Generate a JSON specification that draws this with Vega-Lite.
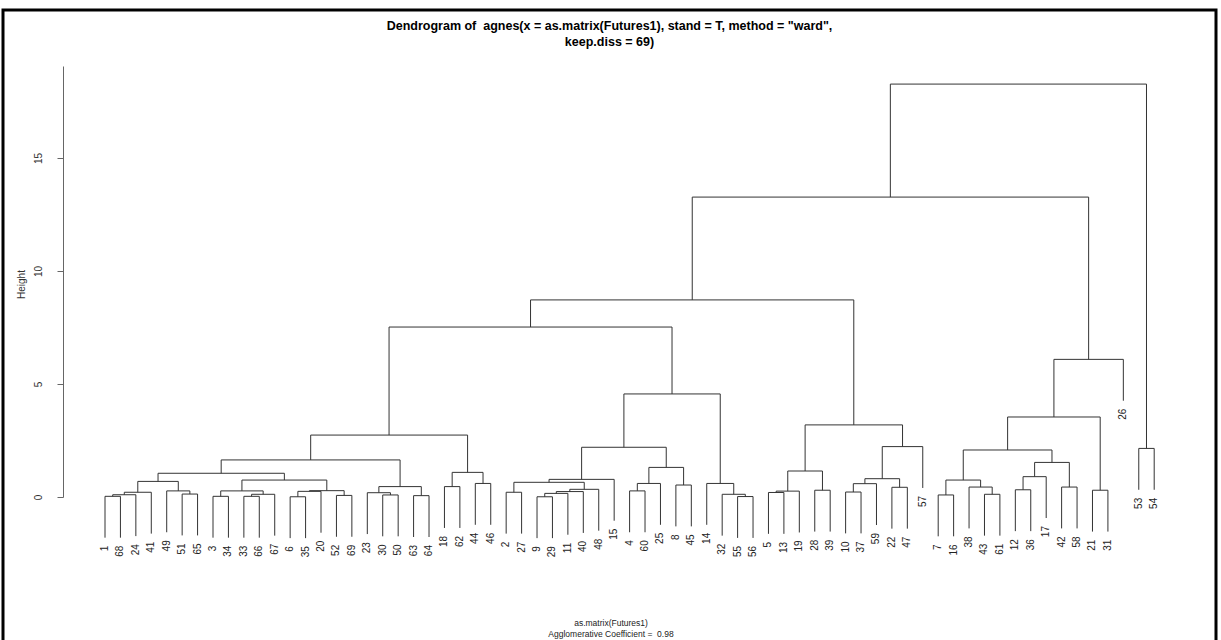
{
  "$schema": "https://vega.github.io/schema/vega-lite/v6.json",
  "width": 1213,
  "height": 640,
  "autosize": "none",
  "padding": {"left": 3, "top": 10, "right": 5, "bottom": 0},
  "background": "white",
  "config": {
    "view": {"stroke": "black", "strokeWidth": 3},
    "font": "Liberation Sans"
  },
  "title": {
    "text": ["Dendrogram of \u00a0agnes(x = as.matrix(Futures1), stand = T, method = \"ward\",", "keep.diss = 69)"],
    "fontSize": 12.5,
    "fontWeight": "bold",
    "font": "Liberation Sans",
    "anchor": "middle",
    "frame": "group",
    "offset": -51,
    "baseline": "bottom",
    "lineHeight": 16,
    "color": "black"
  },
  "datasets": {
    "merges": [
      {"lx": 1, "lb": -1.80, "rx": 2, "rb": -1.80, "h": 0.03},
      {"lx": 1.5, "lb": 0.03, "rx": 3, "rb": -1.73, "h": 0.10},
      {"lx": 2.25, "lb": 0.10, "rx": 4, "rb": -1.62, "h": 0.21},
      {"lx": 6, "lb": -1.70, "rx": 7, "rb": -1.70, "h": 0.13},
      {"lx": 5, "lb": -1.56, "rx": 6.5, "rb": 0.13, "h": 0.27},
      {"lx": 3.125, "lb": 0.21, "rx": 5.75, "rb": 0.27, "h": 0.69},
      {"lx": 8, "lb": -1.80, "rx": 9, "rb": -1.80, "h": 0.03},
      {"lx": 10, "lb": -1.80, "rx": 11, "rb": -1.80, "h": 0.03},
      {"lx": 10.5, "lb": 0.03, "rx": 12, "rb": -1.71, "h": 0.12},
      {"lx": 8.5, "lb": 0.03, "rx": 11.25, "rb": 0.12, "h": 0.27},
      {"lx": 13, "lb": -1.82, "rx": 14, "rb": -1.82, "h": 0.01},
      {"lx": 13.5, "lb": 0.01, "rx": 15, "rb": -1.58, "h": 0.25},
      {"lx": 16, "lb": -1.76, "rx": 17, "rb": -1.76, "h": 0.07},
      {"lx": 14.25, "lb": 0.25, "rx": 16.5, "rb": 0.07, "h": 0.28},
      {"lx": 9.875, "lb": 0.27, "rx": 15.375, "rb": 0.28, "h": 0.75},
      {"lx": 4.4375, "lb": 0.69, "rx": 12.625, "rb": 0.75, "h": 1.05},
      {"lx": 19, "lb": -1.74, "rx": 20, "rb": -1.74, "h": 0.09},
      {"lx": 18, "lb": -1.64, "rx": 19.5, "rb": 0.09, "h": 0.19},
      {"lx": 21, "lb": -1.77, "rx": 22, "rb": -1.77, "h": 0.06},
      {"lx": 18.75, "lb": 0.19, "rx": 21.5, "rb": 0.06, "h": 0.46},
      {"lx": 8.53, "lb": 1.05, "rx": 20.125, "rb": 0.46, "h": 1.64},
      {"lx": 23, "lb": -1.37, "rx": 24, "rb": -1.37, "h": 0.46},
      {"lx": 25, "lb": -1.23, "rx": 26, "rb": -1.23, "h": 0.60},
      {"lx": 23.5, "lb": 0.46, "rx": 25.5, "rb": 0.60, "h": 1.09},
      {"lx": 14.33, "lb": 1.64, "rx": 24.5, "rb": 1.09, "h": 2.74},
      {"lx": 27, "lb": -1.62, "rx": 28, "rb": -1.62, "h": 0.21},
      {"lx": 29, "lb": -1.82, "rx": 30, "rb": -1.82, "h": 0.01},
      {"lx": 29.5, "lb": 0.01, "rx": 31, "rb": -1.67, "h": 0.16},
      {"lx": 30.25, "lb": 0.16, "rx": 32, "rb": -1.59, "h": 0.24},
      {"lx": 31.125, "lb": 0.24, "rx": 33, "rb": -1.49, "h": 0.34},
      {"lx": 27.5, "lb": 0.21, "rx": 32.06, "rb": 0.34, "h": 0.65},
      {"lx": 29.78, "lb": 0.65, "rx": 34, "rb": -1.05, "h": 0.78},
      {"lx": 35, "lb": -1.56, "rx": 36, "rb": -1.56, "h": 0.27},
      {"lx": 35.5, "lb": 0.27, "rx": 37, "rb": -1.23, "h": 0.60},
      {"lx": 38, "lb": -1.30, "rx": 39, "rb": -1.30, "h": 0.53},
      {"lx": 36.25, "lb": 0.60, "rx": 38.5, "rb": 0.53, "h": 1.31},
      {"lx": 31.89, "lb": 0.78, "rx": 37.375, "rb": 1.31, "h": 2.20},
      {"lx": 42, "lb": -1.81, "rx": 43, "rb": -1.81, "h": 0.02},
      {"lx": 41, "lb": -1.71, "rx": 42.5, "rb": 0.02, "h": 0.12},
      {"lx": 40, "lb": -1.23, "rx": 41.75, "rb": 0.12, "h": 0.60},
      {"lx": 34.63, "lb": 2.20, "rx": 40.875, "rb": 0.60, "h": 4.56},
      {"lx": 19.41, "lb": 2.74, "rx": 37.75, "rb": 4.56, "h": 7.52},
      {"lx": 44, "lb": -1.63, "rx": 45, "rb": -1.63, "h": 0.20},
      {"lx": 44.5, "lb": 0.20, "rx": 46, "rb": -1.57, "h": 0.26},
      {"lx": 47, "lb": -1.53, "rx": 48, "rb": -1.53, "h": 0.30},
      {"lx": 45.25, "lb": 0.26, "rx": 47.5, "rb": 0.30, "h": 1.15},
      {"lx": 49, "lb": -1.61, "rx": 50, "rb": -1.61, "h": 0.22},
      {"lx": 49.5, "lb": 0.22, "rx": 51, "rb": -1.24, "h": 0.59},
      {"lx": 52, "lb": -1.40, "rx": 53, "rb": -1.40, "h": 0.43},
      {"lx": 50.25, "lb": 0.59, "rx": 52.5, "rb": 0.43, "h": 0.81},
      {"lx": 51.375, "lb": 0.81, "rx": 54, "rb": 0.40, "h": 2.23},
      {"lx": 46.375, "lb": 1.15, "rx": 52.69, "rb": 2.23, "h": 3.19},
      {"lx": 28.58, "lb": 7.52, "rx": 49.53, "rb": 3.19, "h": 8.72},
      {"lx": 55, "lb": -1.74, "rx": 56, "rb": -1.74, "h": 0.09},
      {"lx": 58, "lb": -1.71, "rx": 59, "rb": -1.71, "h": 0.12},
      {"lx": 57, "lb": -1.39, "rx": 58.5, "rb": 0.12, "h": 0.44},
      {"lx": 55.5, "lb": 0.09, "rx": 57.75, "rb": 0.44, "h": 0.75},
      {"lx": 60, "lb": -1.51, "rx": 61, "rb": -1.51, "h": 0.32},
      {"lx": 60.5, "lb": 0.32, "rx": 62, "rb": -0.93, "h": 0.90},
      {"lx": 63, "lb": -1.39, "rx": 64, "rb": -1.39, "h": 0.44},
      {"lx": 61.25, "lb": 0.90, "rx": 63.5, "rb": 0.44, "h": 1.53},
      {"lx": 56.625, "lb": 0.75, "rx": 62.375, "rb": 1.53, "h": 2.08},
      {"lx": 65, "lb": -1.53, "rx": 66, "rb": -1.53, "h": 0.30},
      {"lx": 59.5, "lb": 2.08, "rx": 65.5, "rb": 0.30, "h": 3.54},
      {"lx": 62.5, "lb": 3.54, "rx": 67, "rb": 4.26, "h": 6.09},
      {"lx": 39.06, "lb": 8.72, "rx": 64.75, "rb": 6.09, "h": 13.27},
      {"lx": 68, "lb": 0.32, "rx": 69, "rb": 0.32, "h": 2.15},
      {"lx": 51.9, "lb": 13.27, "rx": 68.5, "rb": 2.15, "h": 18.27}
    ],
    "leaves": [
      {"label": "1", "pos": 1, "bottom": -1.80},
      {"label": "68", "pos": 2, "bottom": -1.80},
      {"label": "24", "pos": 3, "bottom": -1.73},
      {"label": "41", "pos": 4, "bottom": -1.62},
      {"label": "49", "pos": 5, "bottom": -1.56},
      {"label": "51", "pos": 6, "bottom": -1.70},
      {"label": "65", "pos": 7, "bottom": -1.70},
      {"label": "3", "pos": 8, "bottom": -1.80},
      {"label": "34", "pos": 9, "bottom": -1.80},
      {"label": "33", "pos": 10, "bottom": -1.80},
      {"label": "66", "pos": 11, "bottom": -1.80},
      {"label": "67", "pos": 12, "bottom": -1.71},
      {"label": "6", "pos": 13, "bottom": -1.82},
      {"label": "35", "pos": 14, "bottom": -1.82},
      {"label": "20", "pos": 15, "bottom": -1.58},
      {"label": "52", "pos": 16, "bottom": -1.76},
      {"label": "69", "pos": 17, "bottom": -1.76},
      {"label": "23", "pos": 18, "bottom": -1.64},
      {"label": "30", "pos": 19, "bottom": -1.74},
      {"label": "50", "pos": 20, "bottom": -1.74},
      {"label": "63", "pos": 21, "bottom": -1.77},
      {"label": "64", "pos": 22, "bottom": -1.77},
      {"label": "18", "pos": 23, "bottom": -1.37},
      {"label": "62", "pos": 24, "bottom": -1.37},
      {"label": "44", "pos": 25, "bottom": -1.23},
      {"label": "46", "pos": 26, "bottom": -1.23},
      {"label": "2", "pos": 27, "bottom": -1.62},
      {"label": "27", "pos": 28, "bottom": -1.62},
      {"label": "9", "pos": 29, "bottom": -1.82},
      {"label": "29", "pos": 30, "bottom": -1.82},
      {"label": "11", "pos": 31, "bottom": -1.67},
      {"label": "40", "pos": 32, "bottom": -1.59},
      {"label": "48", "pos": 33, "bottom": -1.49},
      {"label": "15", "pos": 34, "bottom": -1.05},
      {"label": "4", "pos": 35, "bottom": -1.56},
      {"label": "60", "pos": 36, "bottom": -1.56},
      {"label": "25", "pos": 37, "bottom": -1.23},
      {"label": "8", "pos": 38, "bottom": -1.30},
      {"label": "45", "pos": 39, "bottom": -1.30},
      {"label": "14", "pos": 40, "bottom": -1.23},
      {"label": "32", "pos": 41, "bottom": -1.71},
      {"label": "55", "pos": 42, "bottom": -1.81},
      {"label": "56", "pos": 43, "bottom": -1.81},
      {"label": "5", "pos": 44, "bottom": -1.63},
      {"label": "13", "pos": 45, "bottom": -1.63},
      {"label": "19", "pos": 46, "bottom": -1.57},
      {"label": "28", "pos": 47, "bottom": -1.53},
      {"label": "39", "pos": 48, "bottom": -1.53},
      {"label": "10", "pos": 49, "bottom": -1.61},
      {"label": "37", "pos": 50, "bottom": -1.61},
      {"label": "59", "pos": 51, "bottom": -1.24},
      {"label": "22", "pos": 52, "bottom": -1.40},
      {"label": "47", "pos": 53, "bottom": -1.40},
      {"label": "57", "pos": 54, "bottom": 0.40},
      {"label": "7", "pos": 55, "bottom": -1.74},
      {"label": "16", "pos": 56, "bottom": -1.74},
      {"label": "38", "pos": 57, "bottom": -1.39},
      {"label": "43", "pos": 58, "bottom": -1.71},
      {"label": "61", "pos": 59, "bottom": -1.71},
      {"label": "12", "pos": 60, "bottom": -1.51},
      {"label": "36", "pos": 61, "bottom": -1.51},
      {"label": "17", "pos": 62, "bottom": -0.93},
      {"label": "42", "pos": 63, "bottom": -1.39},
      {"label": "58", "pos": 64, "bottom": -1.39},
      {"label": "21", "pos": 65, "bottom": -1.53},
      {"label": "31", "pos": 66, "bottom": -1.53},
      {"label": "26", "pos": 67, "bottom": 4.26},
      {"label": "53", "pos": 68, "bottom": 0.32},
      {"label": "54", "pos": 69, "bottom": 0.32}
    ]
  },
  "layer": [
    {
      "data": {"name": "merges"},
      "mark": {"type": "rule", "color": "#333333", "strokeWidth": 1},
      "encoding": {
        "x": {"field": "lx", "type": "quantitative", "scale": {"domain": [1, 69], "range": [102, 1151.2], "nice": false, "zero": false},
          "axis": {"orient": "bottom", "domain": false, "ticks": false, "labels": false, "grid": false,
            "title": ["as.matrix(Futures1)", "Agglomerative Coefficient = \u00a00.98"],
            "titleFont": "Liberation Sans", "titleFontSize": 8.5, "titleFontWeight": "normal", "titleColor": "#222222",
            "titleX": 607.5, "titleY": -32, "titleAlign": "center", "titleBaseline": "top", "titleLineHeight": 11}},
        "x2": {"field": "rx"},
        "y": {"field": "h", "type": "quantitative", "scale": {"domain": [0, 19.07], "range": [487, 56], "nice": false, "zero": false},
          "axis": {"orient": "left", "offset": -60, "values": [0, 5, 10, 15], "grid": false,
            "title": "Height", "titleX": -42, "titleY": 274, "titleAngle": 270, "titleAlign": "center", "titleBaseline": "middle",
            "titleFont": "Liberation Sans", "titleFontSize": 10, "titleFontWeight": "normal", "titleColor": "#333333",
            "labelAngle": 270, "labelAlign": "center", "labelBaseline": "bottom", "labelPadding": 14,
            "labelFont": "Liberation Sans", "labelFontSize": 10, "labelColor": "#333333",
            "tickSize": 6, "tickColor": "#666666", "domainColor": "#666666"}}
      }
    },
    {
      "data": {"name": "merges"},
      "mark": {"type": "rule", "color": "#333333", "strokeWidth": 1},
      "encoding": {
        "x": {"field": "lx", "type": "quantitative"},
        "y": {"field": "lb", "type": "quantitative"},
        "y2": {"field": "h"}
      }
    },
    {
      "data": {"name": "merges"},
      "mark": {"type": "rule", "color": "#333333", "strokeWidth": 1},
      "encoding": {
        "x": {"field": "rx", "type": "quantitative"},
        "y": {"field": "rb", "type": "quantitative"},
        "y2": {"field": "h"}
      }
    },
    {
      "data": {"name": "leaves"},
      "mark": {"type": "text", "angle": 270, "align": "right", "baseline": "middle", "dx": -8, "font": "Liberation Sans", "fontSize": 10, "color": "#222222"},
      "encoding": {
        "x": {"field": "pos", "type": "quantitative"},
        "y": {"field": "bottom", "type": "quantitative"},
        "text": {"field": "label"}
      }
    }
  ]
}
